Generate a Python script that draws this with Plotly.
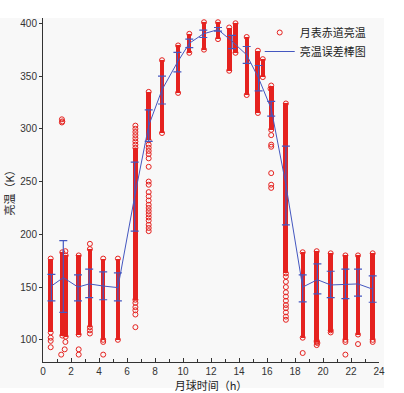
import plotly.graph_objects as go

# ---- dense cores of each observation column (hour, low K, high K, width h) ----
core_hour = [0.55, 1.38, 1.62, 2.55, 3.35, 4.3, 5.35, 6.6, 7.55, 8.5, 9.65, 10.45,
             11.5, 12.5, 13.3, 13.75, 14.55, 15.35, 15.7, 16.3, 17.35,
             18.55, 19.55, 20.55, 21.6, 22.5, 23.55]
core_lo = [107, 104, 103, 105, 112, 100, 100, 138, 289, 296, 334, 372,
           375, 385, 355, 372, 332, 315, 349, 299, 163,
           102, 98, 107, 100, 105, 100]
core_hi = [177, 183, 180, 180, 186, 177, 177, 282, 335, 365, 379, 390,
           401, 401, 396, 400, 387, 374, 366, 341, 324,
           183, 184, 182, 180, 180, 182]
core_w = [0.35, 0.3, 0.3, 0.33, 0.3, 0.3, 0.3, 0.3, 0.33, 0.3, 0.3, 0.3,
          0.35, 0.35, 0.35, 0.3, 0.3, 0.35, 0.25, 0.35, 0.35,
          0.3, 0.33, 0.33, 0.33, 0.33, 0.33]

# ---- sparse / outlying brightness-temperature samples ----
pts_x = [0.55, 0.55, 0.55,
         1.6, 1.55, 1.3, 1.6, 1.35, 1.35, 1.38,
         2.55, 2.55, 3.35, 3.35, 3.35, 4.3, 4.3,
         6.6, 6.6, 6.6, 6.6, 6.6, 6.6, 6.6, 6.6, 6.6, 6.6, 6.6, 6.6,
         7.55, 7.55, 7.55, 7.55, 7.55, 7.55, 7.55, 7.55, 7.55, 7.55,
         7.55, 7.55, 7.55, 7.55, 7.55, 7.55, 7.55, 7.55, 7.55, 7.55,
         16.3, 16.3, 16.3, 16.3, 16.3, 16.25, 16.3,
         17.35, 17.35, 17.35, 17.35, 17.35, 17.35, 17.35, 17.35, 17.35, 17.35, 17.35,
         18.55, 19.55, 19.55, 19.6, 20.55, 21.6, 21.6, 22.5, 23.55]
pts_y = [102, 99, 93,
         98, 91, 86, 184, 306, 309, 307,
         91, 86, 191, 106, 109, 86, 98,
         303, 300, 297, 294, 291, 288, 285, 135, 131, 128, 124, 112,
         285, 282, 279, 276, 272, 264, 250, 247, 240, 236,
         232, 228, 225, 222, 219, 216, 213, 209, 206, 203,
         285, 283, 258, 247, 244, 338, 294,
         160, 155, 150, 145, 141, 137, 133, 130, 126, 122, 119,
         87.5, 95, 99, 97, 109, 86, 98, 96, 98]

# ---- error-bar series: hour, mean, upper, lower ----
eb_hour = [0.6, 1.45, 2.5, 3.3, 4.3, 5.35, 6.55, 7.55, 8.5, 9.6, 10.45, 11.45,
           12.5, 13.5, 14.55, 15.4, 16.3, 17.35, 18.55, 19.6, 20.55, 21.6, 22.5, 23.55]
eb_mean = [151, 159, 150, 153, 151, 149.5, 236, 303, 337, 363, 381, 390,
           394, 383, 370, 348, 319, 247, 150, 157, 152, 152.7, 153, 148]
eb_top = [162, 194, 161.5, 167, 164.5, 163.5, 268.5, 318, 350, 372.5, 385, 393.5,
          396, 388.6, 378, 360, 326, 283.6, 161.5, 172, 165, 167, 167, 160.6]
eb_bot = [137, 126, 137, 140, 138, 137, 203, 288, 323.5, 354, 377, 386.5,
          392.6, 376, 362, 336, 312, 209, 136, 143.5, 140, 139, 141.5, 135.6]

x_ticks = list(range(0, 25, 2))
y_ticks = [100, 150, 200, 250, 300, 350, 400]

RED = "#e5221f"
BLUE = "#4457c0"

fig = go.Figure()

fig.add_trace(go.Bar(
    x=core_hour, y=[h - l for h, l in zip(core_hi, core_lo)], base=core_lo,
    width=core_w, marker=dict(color=RED, line=dict(width=0)),
    showlegend=False, hoverinfo="skip"))

# edge circles of the cores
fig.add_trace(go.Scatter(
    x=core_hour + core_hour, y=core_hi + core_lo, mode="markers",
    marker=dict(symbol="circle-open", size=5, color=RED, line=dict(width=1)),
    showlegend=False, hoverinfo="skip"))

fig.add_trace(go.Scatter(
    x=pts_x, y=pts_y, mode="markers", name="月表赤道亮温",
    marker=dict(symbol="circle-open", size=5, color=RED, line=dict(width=1))))

fig.add_trace(go.Scatter(
    x=eb_hour, y=eb_mean, mode="lines", name="亮温误差棒图",
    line=dict(color=BLUE, width=1),
    error_y=dict(type="data", symmetric=False,
                 array=[t - m for t, m in zip(eb_top, eb_mean)],
                 arrayminus=[m - b for m, b in zip(eb_mean, eb_bot)],
                 color=BLUE, thickness=1.2, width=4)))

fig.add_shape(type="rect", xref="paper", yref="paper",
              x0=-43 / 336, x1=341 / 336, y0=-26 / 344, y1=1.0,
              fillcolor="#f8f8f8", line=dict(width=0), layer="below")

tick_font = dict(family="Liberation Sans, Arial, sans-serif", size=10, color="#333")
title_font = dict(family="Noto Sans CJK SC, sans-serif", size=11, color="#222")

fig.update_layout(
    width=404, height=393,
    margin=dict(l=43, r=25, t=18, b=31),
    paper_bgcolor="white", plot_bgcolor="rgba(0,0,0,0)",
    bargap=0,
    showlegend=True,
    legend=dict(x=0.645, y=1.0, xanchor="left", yanchor="top",
                bgcolor="rgba(0,0,0,0)",
                font=dict(family="Noto Sans CJK SC, sans-serif", size=11, color="#222"),
                tracegroupgap=0, itemwidth=30),
    xaxis=dict(range=[0, 24], tickvals=x_ticks, ticks="inside", ticklen=4,
               minor=dict(dtick=1, ticks="inside", ticklen=3, tickcolor="#333"),
               showline=True, linecolor="#333", linewidth=1, tickcolor="#333",
               showgrid=False, zeroline=False, tickfont=tick_font, automargin=False,
               title=dict(text="月球时间（h）", font=title_font, standoff=0)),
    yaxis=dict(range=[79, 405], tickvals=y_ticks, ticks="outside", ticklen=3,
               showline=True, linecolor="#333", linewidth=1, tickcolor="#333",
               showgrid=False, zeroline=False, tickfont=tick_font, automargin=False,
               title=dict(text="亮温（K）", font=title_font, standoff=3)),
)

fig.write_html("out.html", config={"displayModeBar": False},
               post_script="document.body.style.margin='0';")
